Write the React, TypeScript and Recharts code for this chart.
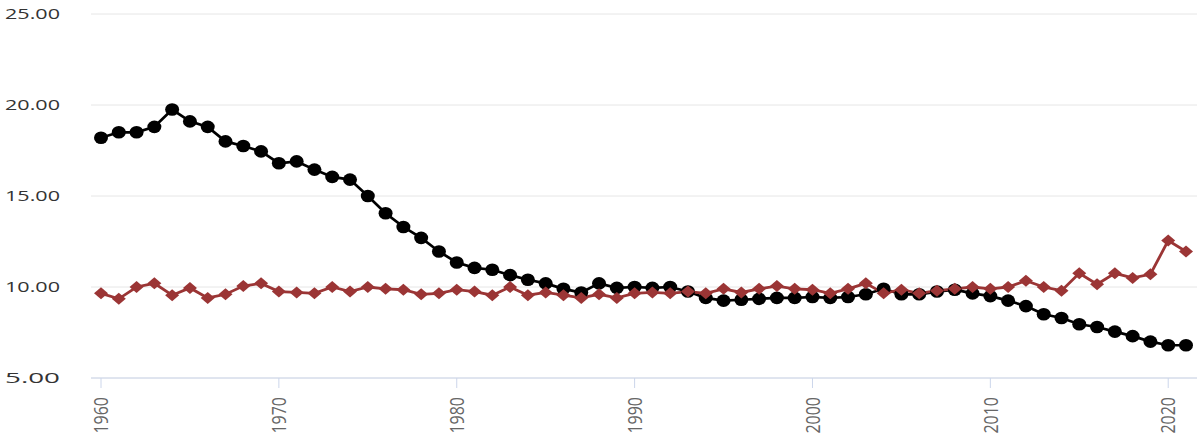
import { CartesianGrid, Line, LineChart, XAxis, YAxis } from "recharts";

const years = [
  1960, 1961, 1962, 1963, 1964, 1965, 1966, 1967, 1968, 1969,
  1970, 1971, 1972, 1973, 1974, 1975, 1976, 1977, 1978, 1979,
  1980, 1981, 1982, 1983, 1984, 1985, 1986, 1987, 1988, 1989,
  1990, 1991, 1992, 1993, 1994, 1995, 1996, 1997, 1998, 1999,
  2000, 2001, 2002, 2003, 2004, 2005, 2006, 2007, 2008, 2009,
  2010, 2011, 2012, 2013, 2014, 2015, 2016, 2017, 2018, 2019,
  2020, 2021,
];

const blackSeries = [
  18.2, 18.5, 18.5, 18.8, 19.75, 19.1, 18.8, 18.0, 17.75, 17.45,
  16.8, 16.9, 16.45, 16.05, 15.9, 15.0, 14.05, 13.3, 12.7, 11.95,
  11.35, 11.05, 10.95, 10.65, 10.4, 10.2, 9.9, 9.7, 10.2, 9.95,
  10.0, 9.95, 10.0, 9.75, 9.4, 9.25, 9.3, 9.35, 9.4, 9.4,
  9.45, 9.4, 9.45, 9.6, 9.9, 9.6, 9.6, 9.75, 9.85, 9.65,
  9.5, 9.25, 8.95, 8.5, 8.3, 7.95, 7.8, 7.55, 7.3, 7.0,
  6.8, 6.8,
];

const redSeries = [
  9.65, 9.35, 10.0, 10.2, 9.55, 9.95, 9.4, 9.6, 10.05, 10.2,
  9.75, 9.7, 9.65, 10.0, 9.75, 10.0, 9.9, 9.85, 9.6, 9.65,
  9.85, 9.75, 9.55, 10.0, 9.55, 9.7, 9.55, 9.4, 9.6, 9.4,
  9.65, 9.7, 9.65, 9.75, 9.65, 9.9, 9.7, 9.9, 10.05, 9.9,
  9.85, 9.65, 9.9, 10.2, 9.65, 9.85, 9.65, 9.8, 9.9, 10.0,
  9.9, 10.0, 10.35, 10.0, 9.8, 10.75, 10.15, 10.75, 10.5, 10.7,
  12.55, 11.95,
];

const yTicks = [5, 10, 15, 20, 25];
const xTicks = [1960, 1970, 1980, 1990, 2000, 2010, 2020];

const data = years.map((year, i) => ({
  year,
  black: blackSeries[i],
  red: redSeries[i],
}));

const RED = "#9b3535";
const AXIS = "#ccd6eb";

const YTick = ({ x, y, payload }: any) => (
  <text
    x={x}
    y={y}
    dy={5}
    textAnchor="end"
    fontSize={14}
    fill="#333"
    fontFamily="'Open Sans', sans-serif"
    textLength={55}
    lengthAdjust="spacingAndGlyphs"
  >
    {Number(payload.value).toFixed(2)}
  </text>
);

const XTick = ({ x, y, payload }: any) => (
  <g transform={`translate(${x},${y + 7}) scale(1.3,1) rotate(-90)`}>
    <text
      x={0}
      y={0}
      dy={5.5}
      textAnchor="end"
      fontSize={16}
      fill="#666"
      fontFamily="'Open Sans', sans-serif"
    >
      {payload.value}
    </text>
  </g>
);

const CircleDot = ({ cx, cy, index }: any) => (
  <ellipse key={`c-${index}`} cx={cx} cy={cy} rx={7} ry={6.3} fill="#000" />
);

const DiamondDot = ({ cx, cy, index }: any) => (
  <polygon
    key={`d-${index}`}
    points={`${cx},${cy - 6} ${cx + 7},${cy} ${cx},${cy + 6} ${cx - 7},${cy}`}
    fill={RED}
  />
);

export default function App() {
  return (
    <div style={{ position: "absolute", left: 0, top: 0, width: 1201, height: 435, background: "#fff" }}>
      <LineChart
        width={1201}
        height={435}
        data={data}
        margin={{ top: 14, right: 4, left: 0, bottom: 0 }}
      >
        <CartesianGrid vertical={false} stroke="#e6e6e6" />
        <XAxis
          dataKey="year"
          type="number"
          domain={[1960, 2021]}
          ticks={xTicks}
          padding={{ left: 10, right: 11 }}
          height={57}
          stroke={AXIS}
          tickSize={10}
          tick={<XTick />}
          interval={0}
        />
        <YAxis
          domain={[5, 25]}
          ticks={yTicks}
          width={91}
          axisLine={false}
          tickLine={false}
          tickSize={0}
          tickMargin={31}
          tick={<YTick />}
        />
        <Line
          dataKey="black"
          stroke="#000"
          strokeWidth={2.7}
          dot={CircleDot}
          activeDot={false}
          isAnimationActive={false}
        />
        <Line
          dataKey="red"
          stroke={RED}
          strokeWidth={2.8}
          dot={DiamondDot}
          activeDot={false}
          isAnimationActive={false}
        />
      </LineChart>
    </div>
  );
}
